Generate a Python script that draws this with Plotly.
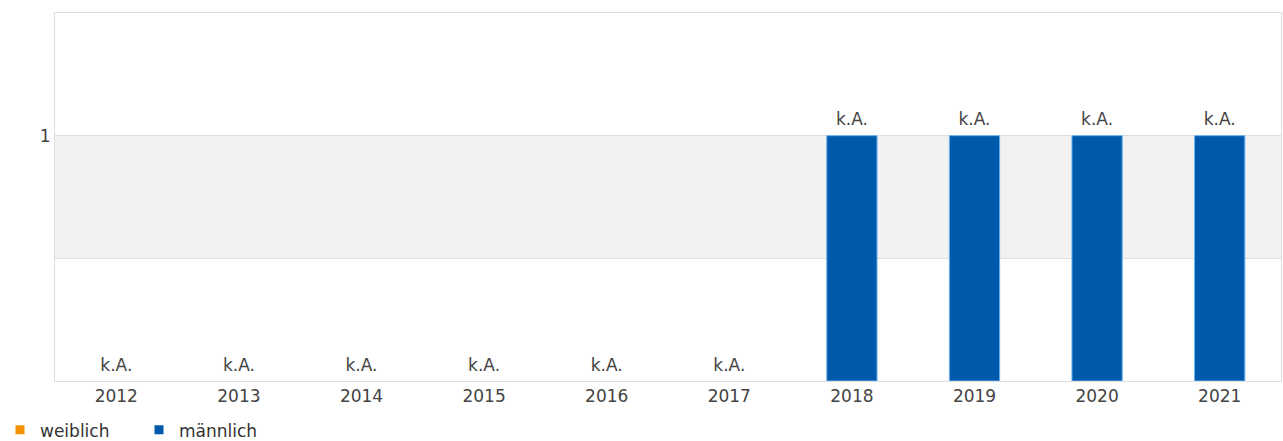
import plotly.graph_objects as go

years = ["2012", "2013", "2014", "2015", "2016", "2017", "2018", "2019", "2020", "2021"]
weiblich = [None] * 10
maennlich = [None, None, None, None, None, None, 1, 1, 1, 1]
labels = ["k.A."] * 10
label_y = [v if v is not None else 0 for v in maennlich]

C_W = "#f39200"
C_M = "#005aab"

fig = go.Figure()
fig.add_trace(go.Bar(x=years, y=weiblich, name="weiblich", showlegend=False,
                     marker=dict(color=C_W)))
fig.add_trace(go.Bar(x=years, y=maennlich, name="männlich", width=0.41, showlegend=False,
                     marker=dict(color=C_M, line=dict(color="#6ab0f0", width=1))))

# value labels
fig.add_trace(go.Scatter(x=years, y=label_y, mode="markers+text", text=labels,
                         textposition="top center", showlegend=False, hoverinfo="skip",
                         marker=dict(size=8, opacity=0),
                         textfont=dict(family="DejaVu Sans", size=17, color="#444444")))

# legend entries
fig.add_trace(go.Scatter(x=[years[0]], y=[None], mode="markers", name="weiblich",
                         marker=dict(symbol="square", size=9, color=C_W)))
fig.add_trace(go.Scatter(x=[years[0]], y=[None], mode="markers", name="männlich",
                         marker=dict(symbol="square", size=9, color=C_M)))

fig.add_shape(type="rect", xref="paper", yref="y", x0=0, x1=1, y0=0.5, y1=1,
              fillcolor="#f2f2f2", line=dict(width=0), layer="below")

fig.update_layout(
    width=1283, height=441,
    margin=dict(l=55, r=2, t=13, b=60, autoexpand=False),
    paper_bgcolor="white", plot_bgcolor="white",
    barmode="overlay",
    font=dict(family="DejaVu Sans", size=17, color="#444444"),
    showlegend=True,
    legend=dict(orientation="h", xref="container", yref="paper",
                x=0.0, y=-0.134, xanchor="left", yanchor="middle",
                font=dict(size=17, color="#333333"),
                entrywidth=94, entrywidthmode="pixels", itemwidth=30),
    xaxis=dict(type="category", categoryorder="array", categoryarray=years,
               range=[-0.5, len(years) - 0.5],
               showline=True, linecolor="#dddddd", mirror=True,
               showgrid=False, ticks="", tickfont=dict(size=17, color="#444444")),
    yaxis=dict(range=[0, 1.5], tickvals=[0.5, 1], ticktext=["", "1"],
               showgrid=True, gridcolor="#e0e0e0", zeroline=False,
               showline=True, linecolor="#dddddd", mirror=True, ticks="",
               tickfont=dict(size=17, color="#444444")),
)

fig.write_html("out.html", config={"displayModeBar": False},
               post_script="document.body.style.margin='0';document.body.style.overflow='hidden';")
